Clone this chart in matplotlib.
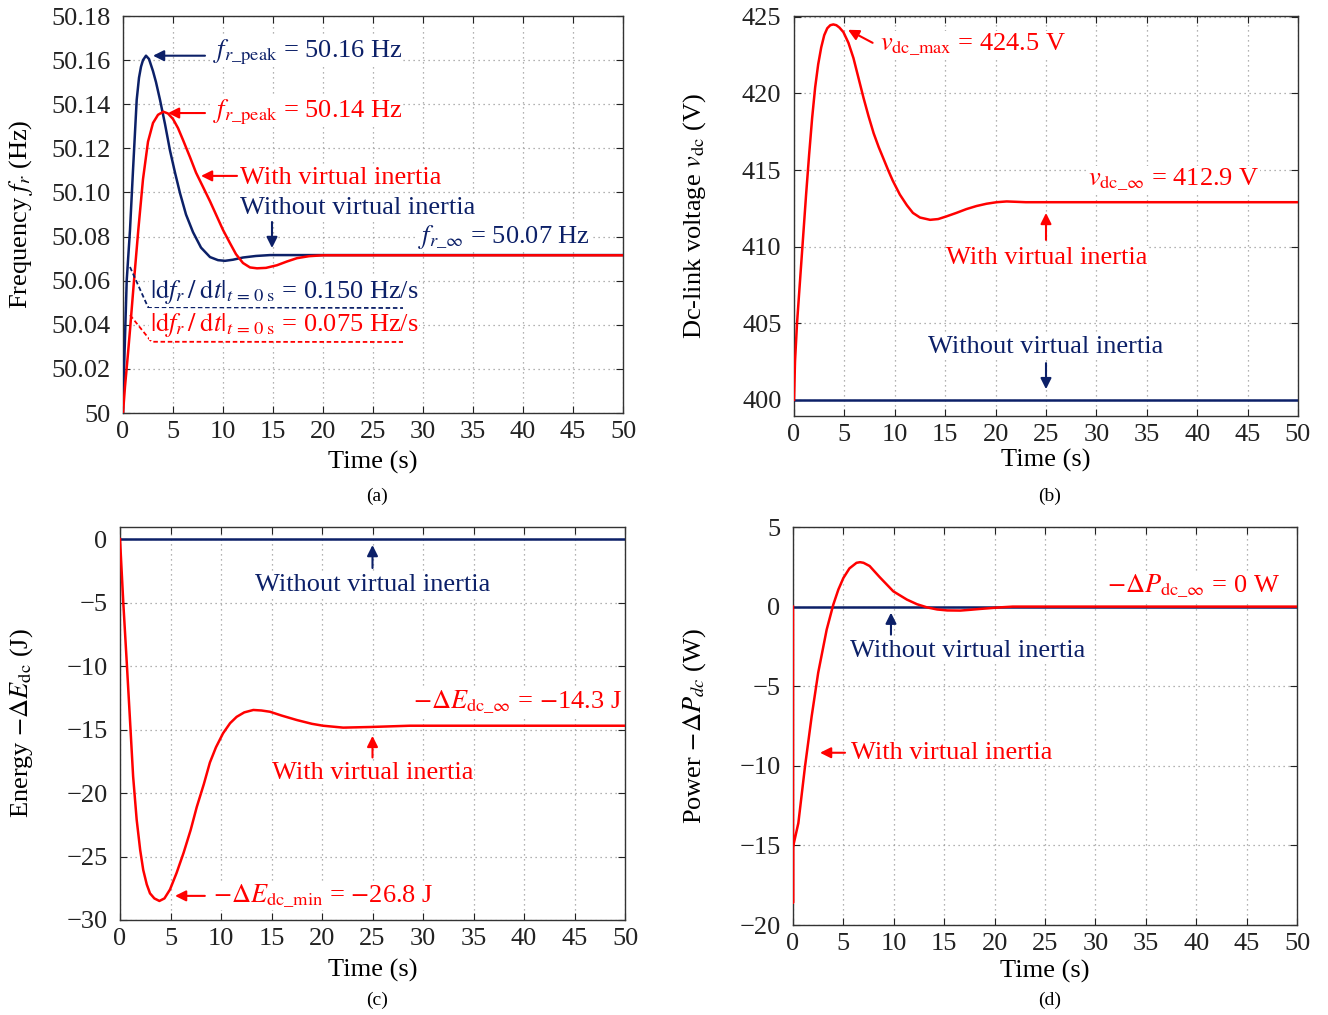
import matplotlib
matplotlib.use('Agg')
import matplotlib.pyplot as plt

plt.rcParams['font.family'] = ['Liberation Serif', 'DejaVu Serif']
plt.rcParams['mathtext.fontset'] = 'stix'

BLUE = '#0c2068'
RED = '#ff0000'
FS = 19

# (a) frequency, Hz
t_fa_blue = [0, 0.02, 0.37, 0.7, 1.0, 1.37, 1.6, 1.8, 2.0, 2.3, 2.6, 3.0, 3.3, 3.7, 4.2, 4.7, 5.2, 5.7,
             6.3, 7.0, 7.8, 8.7, 9.5, 10.2, 11.0, 12.0, 13.3, 14.7, 20, 50]
f_blue = [50.0, 50.007, 50.060, 50.083, 50.110, 50.142, 50.152, 50.157, 50.160, 50.162, 50.1605, 50.155,
          50.150, 50.142, 50.131, 50.119, 50.109, 50.0997, 50.090, 50.082, 50.075, 50.0707, 50.0693,
          50.069, 50.0695, 50.0705, 50.0712, 50.0716, 50.0716, 50.0716]
t_fa_red = [0, 0.2, 0.5, 0.7, 1.1, 1.53, 2.0, 2.5, 3.0, 3.5, 4.03, 4.5, 5.0, 5.5, 6.0, 6.7, 7.3, 8.0,
            8.7, 9.4, 10.0, 10.7, 11.3, 12.0, 12.7, 13.4, 14.3, 15.4, 16.4, 17.4, 18.6, 20, 50]
f_red = [50.0, 50.012, 50.027, 50.0376, 50.060, 50.083, 50.106, 50.123, 50.1315, 50.1352, 50.1366,
         50.1358, 50.1333, 50.1292, 50.1238, 50.116, 50.109, 50.1025, 50.096, 50.089, 50.083, 50.077,
         50.072, 50.068, 50.066, 50.0656, 50.0658, 50.067, 50.0687, 50.0702, 50.0711, 50.0715, 50.0715]

# (b) dc-link voltage, V
t_vb = [0, 0.1, 0.3, 0.6, 0.9, 1.2, 1.5, 1.8, 2.1, 2.4, 2.7, 3.0, 3.3, 3.6, 3.9, 4.2, 4.5, 4.9, 5.4,
        5.9, 6.4, 6.9, 7.4, 7.9, 8.4, 8.9, 9.4, 9.8, 10.5, 11.2, 11.8, 12.5, 13.5, 14.3, 15.1, 16.1,
        17.1, 18.1, 19.1, 20.1, 21.1, 23, 50]
v_red = [400.0, 402.5, 405.0, 407.8, 410.6, 413.4, 416.0, 418.4, 420.4, 421.9, 423.0, 423.8, 424.25,
         424.45, 424.5, 424.45, 424.3, 424.0, 423.3, 422.3, 421.0, 419.7, 418.5, 417.4, 416.5, 415.7,
         414.9, 414.3, 413.4, 412.7, 412.2, 411.9, 411.75, 411.8, 411.97, 412.2, 412.45, 412.65,
         412.8, 412.9, 412.95, 412.9, 412.9]
t_vb_blue = [0, 50]
v_blue = [400.0, 400.0]

# (c) energy, J
t_ec = [0, 0.33, 0.66, 0.99, 1.3, 1.65, 2.0, 2.3, 2.65, 2.97, 3.4, 3.9, 4.4, 4.95, 5.6, 6.3, 7.0,
        7.6, 8.3, 8.9, 9.5, 10.2, 10.9, 11.55, 12.3, 13.2, 14.0, 14.85, 16.0, 17.5, 19.0, 20.1, 22.1,
        24.8, 28.7, 50]
e_red = [0.0, -5.07, -9.6, -14.25, -18.7, -22.1, -24.5, -26.06, -27.2, -27.9, -28.3, -28.5, -28.3,
         -27.6, -26.3, -24.7, -22.9, -21.1, -19.3, -17.6, -16.4, -15.3, -14.5, -14.0, -13.65, -13.46,
         -13.5, -13.6, -13.9, -14.25, -14.55, -14.7, -14.85, -14.8, -14.7, -14.7]
t_ec_blue = [0, 50]
e_blue = [0.0, 0.0]

# (d) power, W
t_pd = [0, 0, 0, 0.53, 1.19, 1.85, 2.5, 3.34, 4.0, 4.5, 5.0, 5.6, 6.3, 6.65, 7.0, 7.6, 8.6, 9.95,
        11.3, 12.3, 13.3, 14.3, 15.3, 16.6, 17.6, 18.5, 20.5, 21.8, 50]
p_red = [0.0, -18.6, -15.1, -13.6, -10.05, -6.9, -4.15, -1.45, 0.13, 1.07, 1.8, 2.4, 2.75, 2.79, 2.75,
         2.55, 1.85, 0.96, 0.44, 0.15, -0.05, -0.18, -0.24, -0.25, -0.2, -0.15, -0.05, 0.0, 0.0]
t_pd_blue = [0, 50]
p_blue = [0.0, 0.0]

x_ticks = list(range(0, 51, 5))
fa_ticks = [50, 50.02, 50.04, 50.06, 50.08, 50.10, 50.12, 50.14, 50.16, 50.18]
fa_labels = ['50', '50.02', '50.04', '50.06', '50.08', '50.10', '50.12', '50.14', '50.16', '50.18']
vb_ticks = [400, 405, 410, 415, 420, 425]
ec_ticks = [-30, -25, -20, -15, -10, -5, 0]
pd_ticks = [-20, -15, -10, -5, 0, 5]

W, H = 1328, 1015
fig = plt.figure(figsize=(W / 100, H / 100), dpi=100)


def box(px_l, px_t, px_r, px_b):
    return [px_l / W, 1 - px_b / H, (px_r - px_l) / W, (px_b - px_t) / H]


def style(ax, yticks, ylabels, ylim, ylabel, lab_x, xlab_y):
    ax.set_xlim(0, 50)
    ax.set_ylim(*ylim)
    ax.set_xticks(x_ticks)
    ax.set_yticks(yticks)
    ax.set_yticklabels(ylabels)
    ax.tick_params(direction='in', top=True, right=True, length=5, width=0.8,
                   labelsize=FS, colors='#222222', pad=6)
    ax.tick_params(axis='y', pad=9)
    ax.grid(True, color='#999999', linestyle=(0, (1, 3)), linewidth=0.9)
    for s in ax.spines.values():
        s.set_color('#333333')
        s.set_linewidth(1.0)
    ax.set_xlabel('Time (s)', fontsize=FS)
    ax.xaxis.set_label_coords(0.5, xlab_y)
    ax.set_ylabel(ylabel, fontsize=FS)
    ax.yaxis.set_label_coords(lab_x, 0.5)


def note(ax, x, y, s, c, ha='left'):
    ax.text(x, y, s, color=c, fontsize=FS, ha=ha, va='center',
            bbox=dict(fc='white', ec='none', pad=0.3), zorder=5)


def arrow(ax, tail, tip, c):
    ax.annotate('', xy=tip, xytext=tail, zorder=6,
                arrowprops=dict(arrowstyle='-|>', color=c, lw=1.5, mutation_scale=16,
                                shrinkA=0, shrinkB=0))


# (a)
ax = fig.add_axes(box(123, 16, 623, 413))
ax.plot(t_fa_blue, f_blue, color=BLUE, lw=1.8, zorder=3)
ax.plot(t_fa_red, f_red, color=RED, lw=1.8, zorder=4)
style(ax, fa_ticks, fa_labels, (50, 50.18), r'Frequency $f_r$ (Hz)', -0.176, -0.096)
note(ax, 9.0, 50.1637, r'$f_{r\_\mathrm{peak}}$ = 50.16 Hz', BLUE)
arrow(ax, (8.2, 50.162), (3.0, 50.162), BLUE)
note(ax, 9.0, 50.1365, r'$f_{r\_\mathrm{peak}}$ = 50.14 Hz', RED)
arrow(ax, (8.2, 50.136), (4.5, 50.136), RED)
note(ax, 11.7, 50.1065, 'With virtual inertia', RED)
arrow(ax, (11.4, 50.1075), (7.8, 50.1075), RED)
note(ax, 11.7, 50.093, 'Without virtual inertia', BLUE)
arrow(ax, (14.9, 50.0866), (14.9, 50.0748), BLUE)
note(ax, 29.5, 50.0798, r'$f_{r\_\infty}$ = 50.07 Hz', BLUE)
ax.plot([0.7, 2.5, 28], [50.0662, 50.048, 50.0476], color=BLUE, lw=1.3, ls=(0, (2.5, 1.5)), zorder=4)
ax.plot([0.7, 2.85, 28], [50.0444, 50.0323, 50.0322], color=RED, lw=1.3, ls=(0, (2.5, 1.5)), zorder=4)
note(ax, 2.7, 50.0549, r'$|\mathrm{d}f_r\,/\;\mathrm{d}t|_{t\,=\,0\;\mathrm{s}}$ = 0.150 Hz/s', BLUE)
note(ax, 2.7, 50.0399, r'$|\mathrm{d}f_r\,/\;\mathrm{d}t|_{t\,=\,0\;\mathrm{s}}$ = 0.075 Hz/s', RED)

# (b)
ax = fig.add_axes(box(794, 16, 1298, 416))
ax.plot(t_vb_blue, v_blue, color=BLUE, lw=1.8, zorder=3)
ax.plot(t_vb, v_red, color=RED, lw=1.8, zorder=4)
style(ax, vb_ticks, [str(v) for v in vb_ticks], (398.95, 425.05),
      r'Dc-link voltage $v_{\mathrm{dc}}$ (V)', -0.171, -0.083)
note(ax, 8.5, 423.2, r'$v_{\mathrm{dc\_max}}$ = 424.5 V', RED)
arrow(ax, (7.8, 423.3), (5.36, 424.15), RED)
note(ax, 29.2, 414.36, r'$v_{\mathrm{dc\_}\infty}$ = 412.9 V', RED)
note(ax, 25.1, 409.27, 'With virtual inertia', RED, ha='center')
arrow(ax, (25.0, 410.44), (25.0, 412.2), RED)
note(ax, 25.0, 403.46, 'Without virtual inertia', BLUE, ha='center')
arrow(ax, (25.0, 402.4), (25.0, 400.7), BLUE)

# (c)
ax = fig.add_axes(box(120, 527, 625, 920))
ax.plot(t_ec_blue, e_blue, color=BLUE, lw=1.8, zorder=3)
ax.plot(t_ec, e_red, color=RED, lw=1.8, zorder=4)
style(ax, ec_ticks, ['\u2212%d' % -v if v < 0 else str(v) for v in ec_ticks], (-30, 0.95),
      r'Energy $-\Delta E_{\mathrm{dc}}$ (J)', -0.168, -0.099)
note(ax, 25.0, -3.62, 'Without virtual inertia', BLUE, ha='center')
arrow(ax, (25.0, -2.28), (25.0, -0.47), BLUE)
note(ax, 29.0, -12.83, r'$-\Delta E_{\mathrm{dc\_}\infty}$ = $-$14.3 J', RED)
note(ax, 25.0, -18.4, 'With virtual inertia', RED, ha='center')
arrow(ax, (25.0, -17.2), (25.0, -15.5), RED)
note(ax, 9.2, -28.1, r'$-\Delta E_{\mathrm{dc\_min}}$ = $-$26.8 J', RED)
arrow(ax, (8.4, -28.1), (5.45, -28.1), RED)

# (d)
ax = fig.add_axes(box(793, 527, 1297, 925))
ax.plot(t_pd_blue, p_blue, color=BLUE, lw=1.8, zorder=3)
ax.plot(t_pd, p_red, color=RED, lw=1.8, zorder=4)
style(ax, pd_ticks, ['\u2212%d' % -v if v < 0 else str(v) for v in pd_ticks], (-20, 5),
      r'Power $-\Delta P_{dc}$ (W)', -0.169, -0.088)
note(ax, 31.2, 1.26, r'$-\Delta P_{\mathrm{dc\_}\infty}$ = 0 W', RED)
note(ax, 5.65, -2.77, 'Without virtual inertia', BLUE)
arrow(ax, (9.72, -1.76), (9.72, -0.38), BLUE)
note(ax, 5.75, -9.18, 'With virtual inertia', RED)
arrow(ax, (5.16, -9.18), (2.68, -9.18), RED)

for lab, (px, py) in zip(['(a)', '(b)', '(c)', '(d)'],
                         [(377, 496), (1050, 496), (377, 1000), (1050, 1000)]):
    fig.text(px / W, 1 - py / H, lab, fontsize=14, ha='center', va='center')

fig.savefig('out.png', dpi=100)
